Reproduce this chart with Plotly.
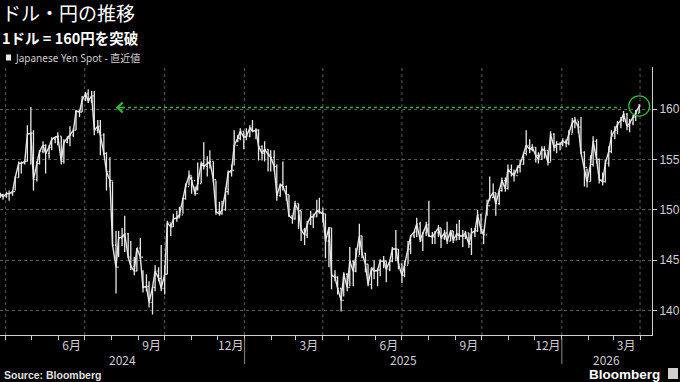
import plotly.graph_objects as go
import pandas as pd

# ---------------- data: USD/JPY spot, twice-weekly bars (Tue / Fri) ----------------
close = [
    151.5, 151.3,                                                   # 2024-03
    151.6, 151.6, 151.8, 153.2, 154.6, 154.6, 154.8, 157.5, 157.6,  # 2024-04
    153.0, 154.6, 155.8, 156.4, 155.6, 156.2, 157.0, 157.2, 157.3,  # 2024-05
    154.8, 156.7, 157.1, 157.4, 157.9, 159.8, 159.7, 160.9,         # 2024-06
    161.5, 160.8, 161.3, 157.9, 158.3, 157.4, 155.6, 153.8, 152.9,  # 2024-07
    146.5, 144.3, 147.2, 147.3, 147.6, 145.3, 144.4, 143.9, 146.2,  # 2024-08
    145.3, 142.3, 142.4, 140.8, 142.3, 143.9, 143.2, 142.2,         # 2024-09
    143.6, 148.7, 148.3, 149.1, 149.2, 149.5, 151.1, 152.3, 153.4,  # 2024-10
    152.9, 151.6, 152.6, 154.6, 154.3, 154.6, 154.8, 153.0, 149.8,  # 2024-11
    149.6, 150.0, 151.8, 153.7, 153.9, 156.4, 157.1, 157.8, 157.2,  # 2024-12
    157.3, 158.1, 157.8, 157.9, 156.3, 155.6, 156.0, 155.5, 155.2,  # 2025-01
    154.3, 151.4, 152.5, 152.3, 151.5, 149.4, 149.1, 150.6,         # 2025-02
    149.9, 148.0, 147.5, 148.6, 149.3, 149.3, 149.9, 149.8,         # 2025-03
    149.6, 146.9, 148.2, 143.5, 143.3, 142.2, 141.0, 143.6, 142.3,  # 2025-04
    144.9, 143.9, 145.4, 147.4, 145.7, 144.6, 142.6, 144.2, 143.9,  # 2025-05
    144.0, 144.9, 144.9, 144.1, 144.9, 146.1, 146.1, 144.6,         # 2025-06
    143.5, 144.5, 146.1, 147.4, 147.8, 148.6, 147.0, 147.7, 148.5,  # 2025-07
    147.4, 147.3, 147.7, 148.2, 147.2, 147.7, 146.9, 147.9, 147.0,  # 2025-08
    147.6, 147.4, 147.4, 147.7, 146.6, 147.7, 147.9, 149.5, 148.0,  # 2025-09
    147.5, 150.4, 151.2, 151.7, 150.6, 151.9, 152.9, 152.1, 154.0,  # 2025-10
    153.6, 153.4, 154.2, 154.5, 155.6, 156.4, 156.0, 156.2,         # 2025-11
    155.4, 155.0, 156.0, 155.9, 154.7, 157.5, 156.2, 156.5, 156.5,  # 2025-12
    156.8, 156.6, 157.5, 158.7, 158.9, 158.2, 155.7, 154.2, 152.8,  # 2026-01
    154.5, 156.8, 155.0, 153.0, 152.8, 154.6, 155.8, 157.3,         # 2026-02
    157.9, 158.5, 158.9, 159.5, 158.3, 158.6, 159.2, 159.6, 160.3,  # 2026-03
]
high = [
    151.7, 151.6,
    151.8, 151.9, 151.9, 153.3, 154.8, 154.8, 154.9, 158.4, 160.2,
    157.9, 154.8, 155.9, 156.8, 156.5, 156.4, 157.2, 157.2, 157.7,
    157.3, 157.0, 157.3, 158.3, 158.1, 159.9, 159.9, 161.3,
    161.7, 161.95, 161.8, 161.8, 158.9, 158.9, 157.6, 155.7, 155.2,
    152.8, 147.9, 147.9, 148.2, 149.4, 147.7, 146.9, 145.3, 146.2,
    147.2, 144.0, 143.6, 142.9, 142.4, 144.5, 144.3, 146.5,
    144.5, 148.9, 148.6, 149.6, 149.9, 150.3, 151.2, 152.6, 153.9,
    153.3, 152.3, 154.7, 154.8, 156.7, 155.3, 155.9, 154.8, 152.9,
    150.8, 150.9, 152.2, 153.9, 154.5, 157.9, 157.4, 158.1, 157.8,
    158.1, 158.4, 158.9, 158.1, 158.0, 156.4, 156.8, 156.0, 155.9,
    155.9, 154.5, 152.6, 154.8, 152.4, 151.5, 149.4, 150.9,
    150.6, 149.9, 148.2, 148.9, 149.9, 149.6, 151.0, 151.2,
    150.2, 149.6, 148.3, 148.2, 144.0, 143.4, 142.2, 143.8, 143.7,
    146.3, 145.0, 146.2, 148.6, 147.4, 145.7, 144.6, 144.3, 145.0,
    144.2, 145.1, 145.4, 144.9, 145.0, 146.3, 148.0, 146.1,
    144.7, 144.9, 146.9, 147.5, 147.8, 149.2, 148.8, 147.8, 148.8,
    150.9, 147.8, 147.9, 148.5, 148.2, 148.0, 148.8, 148.0, 147.9,
    148.6, 149.0, 148.0, 147.9, 147.7, 148.2, 148.2, 150.0, 149.6,
    148.0, 151.0, 153.3, 152.6, 151.7, 152.0, 153.2, 153.2, 154.5,
    154.5, 154.0, 154.4, 155.0, 155.7, 157.9, 157.0, 156.5,
    156.2, 155.7, 156.3, 156.3, 155.8, 157.8, 157.6, 156.8, 156.7,
    157.1, 157.0, 157.9, 159.1, 159.2, 158.8, 159.2, 155.8, 154.1,
    155.4, 157.3, 157.0, 155.1, 153.7, 155.0, 156.3, 157.9,
    158.3, 158.8, 159.2, 159.8, 159.6, 159.0, 159.4, 159.9, 160.5,
]
low = [
    151.2, 151.0,
    151.2, 150.9, 151.4, 151.9, 153.2, 153.6, 154.5, 154.8, 154.5,
    151.9, 152.8, 154.5, 155.6, 153.6, 155.1, 155.9, 156.6, 156.4,
    154.5, 154.6, 156.6, 156.3, 157.2, 157.9, 159.2, 159.7,
    160.8, 160.6, 160.6, 157.4, 157.6, 155.4, 155.4, 151.9, 152.2,
    146.4, 141.7, 145.3, 146.4, 145.8, 145.2, 144.0, 143.5, 143.9,
    145.1, 141.8, 141.9, 140.3, 139.6, 141.9, 142.9, 141.9,
    141.6, 143.6, 147.4, 148.3, 148.8, 149.2, 149.6, 151.0, 152.4,
    151.6, 151.4, 151.9, 152.6, 154.0, 153.3, 154.1, 152.7, 149.5,
    149.4, 149.5, 149.9, 151.5, 153.3, 154.4, 156.7, 156.9, 156.0,
    156.9, 157.2, 157.7, 157.0, 154.9, 154.9, 154.8, 153.8, 153.8,
    153.8, 150.9, 151.3, 151.9, 150.9, 149.3, 148.6, 149.0,
    148.1, 146.9, 146.5, 147.2, 148.5, 148.2, 149.3, 149.6,
    148.7, 145.2, 144.3, 142.1, 142.9, 141.6, 139.9, 141.4, 141.9,
    142.4, 142.4, 143.8, 145.5, 145.2, 143.8, 142.4, 142.1, 143.1,
    142.4, 143.4, 144.2, 142.8, 143.9, 144.8, 144.9, 144.1,
    142.7, 143.3, 144.6, 145.6, 147.2, 147.3, 146.8, 145.9, 147.4,
    147.3, 146.6, 146.6, 147.3, 146.2, 147.0, 146.6, 146.9, 146.7,
    147.0, 147.0, 146.3, 147.1, 146.2, 145.5, 147.3, 147.8, 147.6,
    146.6, 149.4, 150.9, 151.2, 149.4, 150.5, 151.8, 151.8, 152.0,
    153.3, 152.8, 153.6, 153.7, 154.5, 155.4, 155.6, 155.8,
    154.7, 154.6, 155.0, 155.1, 154.4, 154.8, 155.8, 155.6, 155.9,
    156.3, 156.2, 156.4, 157.6, 158.1, 157.6, 155.5, 152.3, 152.2,
    152.8, 154.3, 154.6, 152.6, 152.4, 152.7, 154.3, 155.6,
    157.0, 157.5, 158.1, 158.7, 157.9, 157.7, 158.4, 158.8, 159.6,
]

y_tick_values = [140, 145, 150, 155, 160]
month_labels = ["6月", "9月", "12月", "3月", "6月", "9月", "12月", "3月"]
year_labels = ["2024", "2025", "2026"]
BREAK_LEVEL = 160.15

TITLE = "ドル・円の推移"
SUBTITLE = "1ドル = 160円を突破"
SERIES_NAME = "Japanese Yen Spot - 直近値"

# ---------------- derived ----------------
tues = pd.date_range("2024-03-26", "2026-03-31", freq="W-TUE")
fris = pd.date_range("2024-03-29", "2026-03-27", freq="W-FRI")
dates = tues.union(fris)[:len(close)]
n = min(len(dates), len(close), len(high), len(low))
dates, close, high, low = dates[:n], close[:n], high[:n], low[:n]
opens = [close[0]] + close[:-1]

X_START = pd.Timestamp("2024-03-25 12:00")
X_END = pd.Timestamp("2026-04-14 18:00")
Y_RANGE = [137.57, 164.17]

W, H = 680, 382
ML, MR, MT, MB = 0, 28, 67, 47
PW, PH = W - ML - MR, H - MT - MB

def px(x):
    return (x - ML) / PW

def py(y):
    return (H - MB - y) / PH

BG = "#000000"
AX = "#cfcfcf"
GRID = "#5a5a5a"
BAR = "#e6e6e6"
GREEN = "#2fbf2f"
CJK = "Noto Sans CJK JP"
LAT = "Liberation Sans, Arial, sans-serif"

fig = go.Figure()
fig.add_trace(go.Ohlc(
    x=dates, open=opens, high=high, low=low, close=close,
    increasing=dict(line=dict(color=BAR, width=1.3)),
    decreasing=dict(line=dict(color=BAR, width=1.3)),
    tickwidth=0.45, showlegend=False, hoverinfo="skip",
))
fig.add_trace(go.Scatter(
    x=dates, y=close, mode="lines", line=dict(color=BAR, width=1.4),
    showlegend=False, hoverinfo="skip",
))

# quarterly vertical grid lines
for d in pd.date_range("2024-04-01", "2026-04-01", freq="QS"):
    fig.add_shape(type="line", xref="x", yref="paper", x0=d, x1=d, y0=0, y1=1,
                  line=dict(color=GRID, width=1, dash="dot"), layer="below")

# year separators and labels
year_starts = [pd.Timestamp("2025-01-01"), pd.Timestamp("2026-01-01")]
for d in year_starts:
    fig.add_shape(type="line", xref="x", yref="paper", x0=d, x1=d,
                  y0=py(338), y1=py(364), line=dict(color="#8a8a8a", width=1))
bounds = [X_START] + year_starts + [X_END]
for i, yl in enumerate(year_labels):
    mid = bounds[i] + (bounds[i + 1] - bounds[i]) / 2
    fig.add_annotation(x=mid, y=py(359), xref="x", yref="paper", text=yl,
                       showarrow=False, xanchor="center", yanchor="middle",
                       font=dict(family=CJK, size=12, color=AX))

# breakout line with arrow and circle
arrow_left = pd.Timestamp("2024-08-06")
arrow_right = pd.Timestamp("2026-03-10")
fig.add_shape(type="line", xref="x", yref="y", x0=arrow_left, x1=arrow_right,
              y0=BREAK_LEVEL, y1=BREAK_LEVEL, line=dict(color=GREEN, width=1.6, dash="dot"))
fig.add_annotation(x=arrow_left, y=BREAK_LEVEL, xref="x", yref="y", ax=9, ay=0,
                   text="", showarrow=True, arrowhead=4, arrowsize=1.3,
                   arrowwidth=1.5, arrowcolor=GREEN)
last_d = dates[-1]
fig.add_shape(type="circle", xref="x", yref="y",
              x0=last_d - pd.Timedelta(days=12), x1=last_d + pd.Timedelta(days=12),
              y0=close[-1] - 1.0, y1=close[-1] + 1.0,
              line=dict(color=GREEN, width=1.3))

# titles / legend / source
fig.add_annotation(x=px(1), y=py(13), xref="paper", yref="paper", text=TITLE,
                   showarrow=False, xanchor="left", yanchor="middle", borderpad=0,
                   font=dict(family=CJK, size=19, color="#ffffff"))
fig.add_annotation(x=px(1), y=py(37), xref="paper", yref="paper", text=f"<b>{SUBTITLE}</b>",
                   showarrow=False, xanchor="left", yanchor="middle", borderpad=0,
                   font=dict(family=CJK, size=14.5, color="#ffffff"))
fig.add_shape(type="rect", xref="paper", yref="paper", x0=px(6), x1=px(11),
              y0=py(60.5), y1=py(54.5), fillcolor="#e8e8e8", line=dict(width=0))
fig.add_annotation(x=px(13), y=py(57.5), xref="paper", yref="paper", text=SERIES_NAME,
                   showarrow=False, xanchor="left", yanchor="middle",
                   font=dict(family="Noto Sans, " + CJK, size=10, color=AX))
fig.add_annotation(x=px(2), y=py(375), xref="paper", yref="paper", text="<b>Source: Bloomberg</b>",
                   showarrow=False, xanchor="left", yanchor="middle",
                   font=dict(family=LAT, size=10.5, color="#e0e0e0"))
fig.add_annotation(x=px(662), y=py(374), xref="paper", yref="paper", text="<b>Bloomberg</b>",
                   showarrow=False, xanchor="right", yanchor="middle",
                   font=dict(family=LAT, size=13.5, color="#ffffff"))
fig.add_shape(type="rect", xref="paper", yref="paper", x0=px(668), x1=px(678),
              y0=py(379), y1=py(368), fillcolor="#cfcfcf", line=dict(width=0))

month_mid = pd.date_range("2024-06-01", periods=len(month_labels), freq="3MS") + pd.Timedelta(days=15)
month_starts = pd.date_range("2024-04-01", "2026-04-01", freq="MS")

fig.update_layout(
    width=W, height=H, margin=dict(l=ML, r=MR, t=MT, b=MB),
    paper_bgcolor=BG, plot_bgcolor=BG, showlegend=False,
    xaxis=dict(type="date", range=[X_START, X_END], rangeslider=dict(visible=False),
               tickmode="array", tickvals=month_mid, ticktext=month_labels, ticks="",
               showgrid=False, zeroline=False, showline=True, linecolor=AX, linewidth=1,
               tickfont=dict(family=CJK, size=12, color=AX),
               minor=dict(tickmode="array", tickvals=month_starts, ticks="outside",
                          ticklen=4, tickcolor=AX, showgrid=False)),
    yaxis=dict(side="right", range=Y_RANGE, tickmode="array", tickvals=y_tick_values,
               ticks="outside", ticklen=4, tickcolor=AX, showline=True, linecolor=AX,
               linewidth=1, showgrid=True, gridcolor=GRID, griddash="dot", gridwidth=1,
               zeroline=False, tickfont=dict(family=LAT, size=12, color=AX)),
)

fig.write_html("out.html", config={"displayModeBar": False})
